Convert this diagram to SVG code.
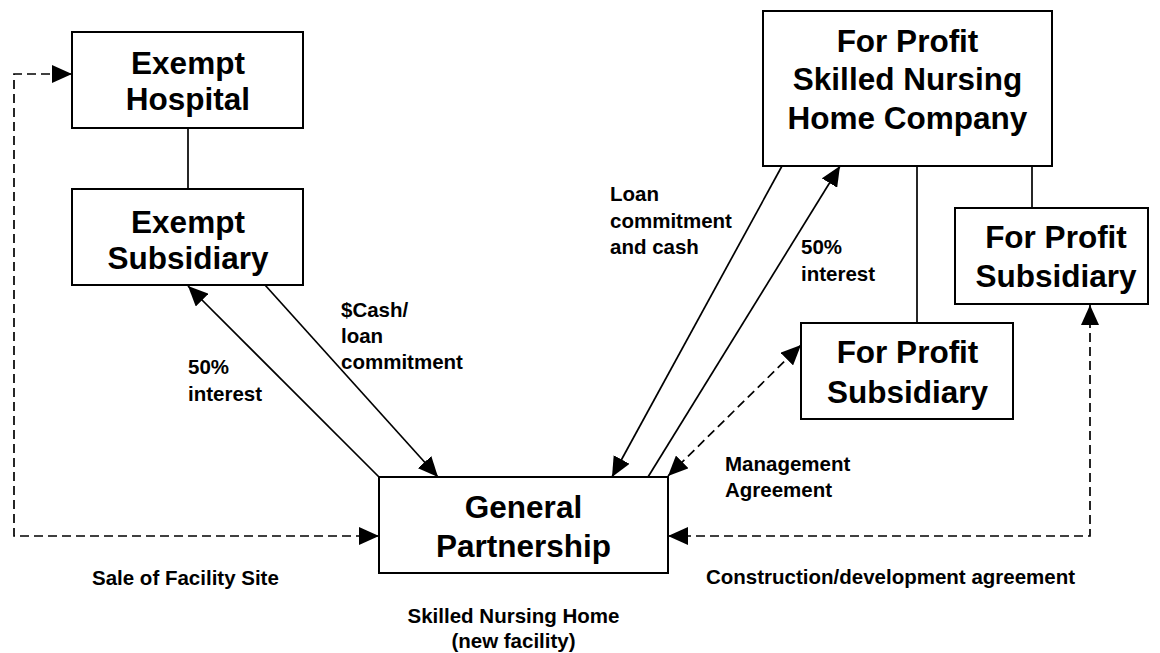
<svg xmlns="http://www.w3.org/2000/svg" width="1160" height="653" viewBox="0 0 1160 653">
<style>
.box{fill:#fff;stroke:#000;stroke-width:2}
.bt{font-family:"Liberation Sans",Arial,sans-serif;font-weight:bold;font-size:31.5px;text-anchor:middle;fill:#000}
.lb{font-family:"Liberation Sans",Arial,sans-serif;font-weight:bold;font-size:20.5px;fill:#000}
.ln{fill:none;stroke:#000;stroke-width:1.7}
.dl{fill:none;stroke:#000;stroke-width:1.7;stroke-dasharray:9 5}
</style>
<defs>
<marker id="ah" markerUnits="userSpaceOnUse" markerWidth="22" markerHeight="18" refX="20" refY="9" orient="auto-start-reverse" viewBox="0 0 22 18">
<path d="M0,0 L20,9 L0,18 z" fill="#000"/>
</marker>
</defs>
<rect width="1160" height="653" fill="#fff"/>
<g id="connectors">
<line class="ln" x1="188" y1="128" x2="188" y2="189"/>
<line class="ln" x1="917" y1="166" x2="917" y2="323"/>
<line class="ln" x1="1032" y1="166" x2="1032" y2="208"/>
<line class="ln" x1="379" y1="477" x2="188" y2="286" marker-end="url(#ah)"/>
<line class="ln" x1="265" y1="285" x2="438" y2="477" marker-end="url(#ah)"/>
<line class="ln" x1="782" y1="166" x2="612" y2="477" marker-end="url(#ah)"/>
<line class="ln" x1="648" y1="477" x2="840" y2="166" marker-end="url(#ah)"/>
<line class="dl" x1="668" y1="476" x2="801" y2="345" marker-start="url(#ah)" marker-end="url(#ah)"/>
<path class="dl" d="M379,536 H14 V74 H72" marker-start="url(#ah)" marker-end="url(#ah)"/>
<path class="dl" d="M668,536 H1090 V305" marker-start="url(#ah)" marker-end="url(#ah)"/>
</g>
<g id="exempt-hospital">
<rect class="box" x="72" y="32" width="231" height="96"/>
<text class="bt" x="188" y="74">Exempt</text>
<text class="bt" x="188" y="110">Hospital</text>
</g>
<g id="exempt-subsidiary">
<rect class="box" x="72" y="189" width="231" height="96"/>
<text class="bt" x="188" y="233">Exempt</text>
<text class="bt" x="188" y="269">Subsidiary</text>
</g>
<g id="general-partnership">
<rect class="box" x="379" y="477" width="289" height="96"/>
<text class="bt" x="523.5" y="518">General</text>
<text class="bt" x="523.5" y="557">Partnership</text>
</g>
<g id="for-profit-company">
<rect class="box" x="763" y="11" width="289" height="155"/>
<text class="bt" x="907.5" y="52">For Profit</text>
<text class="bt" x="907.5" y="90">Skilled Nursing</text>
<text class="bt" x="907.5" y="129">Home Company</text>
</g>
<g id="for-profit-subsidiary-middle">
<rect class="box" x="801" y="323" width="212" height="96"/>
<text class="bt" x="907.5" y="363">For Profit</text>
<text class="bt" x="907.5" y="403">Subsidiary</text>
</g>
<g id="for-profit-subsidiary-right">
<rect class="box" x="955" y="208" width="193" height="96"/>
<text class="bt" x="1056" y="248">For Profit</text>
<text class="bt" x="1056" y="287">Subsidiary</text>
</g>
<g id="labels">
<text class="lb" x="188" y="374">50%</text>
<text class="lb" x="188" y="401">interest</text>
<text class="lb" x="341" y="317">$Cash/</text>
<text class="lb" x="341" y="343">loan</text>
<text class="lb" x="341" y="369">commitment</text>
<text class="lb" x="610" y="201">Loan</text>
<text class="lb" x="610" y="228">commitment</text>
<text class="lb" x="610" y="254">and cash</text>
<text class="lb" x="801" y="254">50%</text>
<text class="lb" x="801" y="281">interest</text>
<text class="lb" x="725" y="471">Management</text>
<text class="lb" x="725" y="497">Agreement</text>
<text class="lb" x="92" y="585">Sale of Facility Site</text>
<text class="lb" x="706" y="584">Construction/development agreement</text>
<text class="lb" x="513.5" y="623" text-anchor="middle">Skilled Nursing Home</text>
<text class="lb" x="513.5" y="648" text-anchor="middle">(new facility)</text>
</g>
</svg>
